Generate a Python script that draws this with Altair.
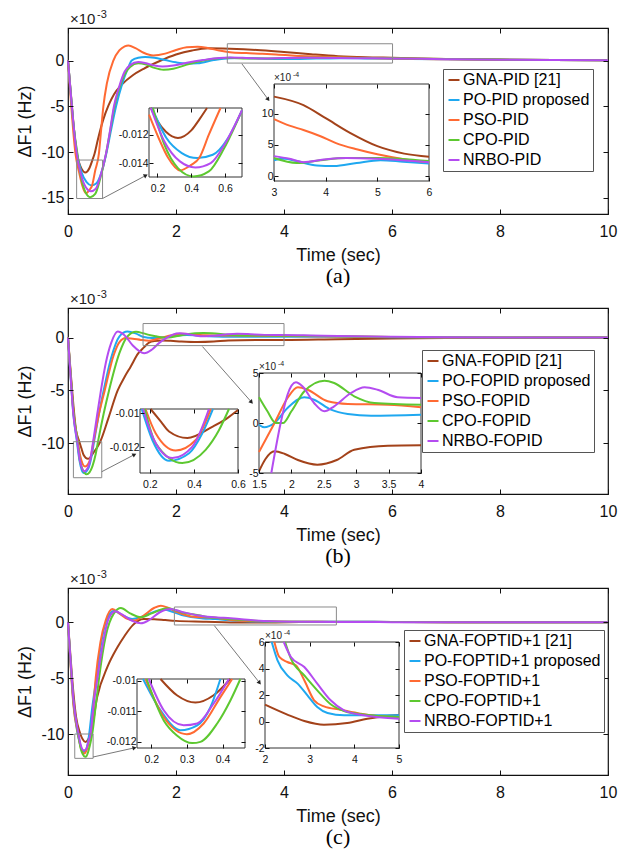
import math
import altair as alt
import pandas as pd

FONT = "Liberation Sans"
SERIF = "Liberation Serif"
COLORS = ["#A3421A", "#1FA8F0", "#FF6A33", "#5DC830", "#B44CF0"]

MAIN_XTICKS = [0, 2, 4, 6, 8, 10]

# ---------------- panel (a) ----------------
A_NAMES = ["GNA-PID [21]", "PO-PID proposed", "PSO-PID", "CPO-PID", "NRBO-PID"]
A_YDOM = [-16.75, 3.55]
A_YTICKS = [-15, -10, -5, 0]
A_GNA = [(0, 0), (0.05, -3.4), (0.1, -6.8), (0.161, -10.14), (0.2, -11.05), (0.25, -11.8), (0.32, -12.23), (0.4, -11.7), (0.45, -10.9), (0.493, -10.14), (0.55, -8.7), (0.65, -6.5), (0.75, -4.9), (0.85, -3.7), (1.0, -2.6), (1.2, -1.6), (1.4, -0.9), (1.7, -0.05), (2.0, 0.65), (2.3, 1.1), (2.6, 1.33), (3.0, 1.28), (3.5, 1.15), (4.0, 0.93), (4.5, 0.69), (5.0, 0.48), (5.5, 0.36), (6.0, 0.3), (7.0, 0.18), (8.0, 0.1), (9.0, 0.06), (10.0, 0.04)]
A_PO = [(0, 0), (0.05, -3.6), (0.1, -7.0), (0.168, -10.14), (0.253, -12.23), (0.344, -13.28), (0.435, -13.63), (0.527, -13.4), (0.618, -12.23), (0.71, -10.14), (0.8, -7.5), (0.89, -5.0), (1.0, -2.6), (1.1, -1.0), (1.18, 0.0), (1.3, 0.3), (1.43, 0.38), (1.6, 0.3), (1.8, 0.05), (2.0, -0.2), (2.2, -0.33), (2.4, -0.3), (2.7, 0.05), (3.0, 0.26), (3.2, 0.28), (3.44, 0.24), (3.83, 0.17), (4.16, 0.16), (4.6, 0.21), (5.06, 0.255), (5.5, 0.23), (6.0, 0.2), (7.0, 0.14), (8.0, 0.09), (9.0, 0.06), (10.0, 0.04)]
A_PSO = [(0, 0), (0.05, -4.1), (0.1, -7.9), (0.138, -10.14), (0.207, -12.23), (0.264, -13.63), (0.333, -14.49), (0.4, -14.1), (0.447, -13.63), (0.504, -12.0), (0.573, -10.14), (0.61, -7.8), (0.655, -5.0), (0.72, -2.5), (0.84, 0.0), (0.95, 1.1), (1.05, 1.55), (1.12, 1.65), (1.25, 1.35), (1.4, 0.85), (1.58, 0.55), (1.8, 0.75), (2.0, 1.15), (2.2, 1.45), (2.4, 1.5), (2.6, 1.35), (2.8, 1.1), (3.0, 0.915), (3.3, 0.81), (3.6, 0.74), (3.9, 0.64), (4.2, 0.53), (4.6, 0.43), (5.0, 0.35), (5.5, 0.27), (6.0, 0.21), (7.0, 0.14), (8.0, 0.09), (9.0, 0.06), (10.0, 0.04)]
A_CPO = [(0, 0), (0.05, -3.5), (0.1, -6.9), (0.173, -10.14), (0.241, -12.7), (0.321, -14.33), (0.413, -14.91), (0.504, -14.56), (0.595, -12.93), (0.7, -10.3), (0.78, -7.7), (0.86, -5.0), (0.95, -3.0), (1.05, -1.5), (1.15, -0.7), (1.3, -0.3), (1.45, -0.45), (1.6, -0.8), (1.77, -1.0), (1.95, -0.9), (2.2, -0.45), (2.5, 0.0), (2.8, 0.25), (3.0, 0.29), (3.3, 0.23), (3.6, 0.22), (4.0, 0.25), (4.4, 0.29), (5.0, 0.29), (6.0, 0.24), (7.0, 0.16), (8.0, 0.1), (9.0, 0.06), (10.0, 0.04)]
A_NRBO = [(0, 0), (0.05, -3.5), (0.1, -6.9), (0.161, -10.14), (0.241, -12.47), (0.333, -13.86), (0.424, -14.28), (0.515, -13.98), (0.607, -12.47), (0.705, -10.14), (0.78, -7.6), (0.85, -5.0), (0.95, -2.8), (1.05, -1.2), (1.15, -0.5), (1.3, -0.15), (1.45, -0.3), (1.6, -0.55), (1.75, -0.65), (1.95, -0.55), (2.2, -0.25), (2.5, 0.05), (2.8, 0.28), (3.0, 0.32), (3.3, 0.28), (3.6, 0.22), (4.0, 0.265), (4.4, 0.29), (5.0, 0.28), (5.5, 0.25), (6.0, 0.22), (7.0, 0.15), (8.0, 0.09), (9.0, 0.06), (10.0, 0.04)]
A_BOXES = [(0.16, 0.64, -15.06, -10.86), (2.95, 6.01, -0.28, 1.83)]
A_ARROWS = [(0.64, -15.06, 1.43, -12.58), (3.22, -0.36, 3.70, -4.19)]
A_LEGEND_XY = (375, 41)

AI1_XDOM, AI1_YDOM = [0.15, 0.7], [-0.01495, -0.01014]
AI1_XTICKS, AI1_YTICKS = [0.2, 0.4, 0.6], [-0.014, -0.012]
AI1_GNA = [(0.161, -0.01014), (0.2, -0.01105), (0.25, -0.0118), (0.321, -0.01223), (0.4, -0.0117), (0.45, -0.0109), (0.493, -0.01014)]
AI1_PO = [(0.168, -0.01014), (0.253, -0.01223), (0.344, -0.01328), (0.435, -0.01363), (0.527, -0.0134), (0.618, -0.01223), (0.7, -0.0103)]
AI1_PSO = [(0.15, -0.0106), (0.207, -0.01223), (0.264, -0.01363), (0.333, -0.01449), (0.4, -0.0141), (0.447, -0.01363), (0.504, -0.012), (0.573, -0.01014)]
AI1_CPO = [(0.173, -0.01014), (0.241, -0.0127), (0.321, -0.01433), (0.413, -0.01491), (0.504, -0.01456), (0.595, -0.01293), (0.7, -0.0103)]
AI1_NRBO = [(0.161, -0.01014), (0.241, -0.01247), (0.333, -0.01386), (0.424, -0.01428), (0.515, -0.01398), (0.607, -0.01247), (0.7, -0.0103)]
AI1_PX, AI1_PY = (81, 174), (80, 149)

AI2_XDOM, AI2_YDOM = [3, 6], [-0.8, 14.8]
AI2_XTICKS, AI2_YTICKS = [3, 4, 5, 6], [0, 5, 10]
AI2_GNA = [(3.0, 12.77), (3.57, 11.4), (4.0, 9.3), (4.48, 6.9), (5.0, 4.8), (5.52, 3.6), (6.0, 3.1)]
AI2_PO = [(3.0, 2.55), (3.2, 2.77), (3.44, 2.4), (3.83, 1.7), (4.16, 1.6), (4.6, 2.1), (5.06, 2.55), (5.5, 2.3), (6.0, 2.0)]
AI2_PSO = [(3.0, 9.15), (3.3, 8.1), (3.57, 7.4), (3.9, 6.4), (4.2, 5.3), (4.6, 4.3), (5.0, 3.5), (5.52, 2.7), (6.0, 2.2)]
AI2_CPO = [(3.0, 2.9), (3.44, 2.1), (3.9, 2.55), (4.4, 2.9), (5.0, 2.9), (6.0, 2.4)]
AI2_NRBO = [(3.0, 3.2), (3.3, 2.77), (3.57, 2.23), (3.96, 2.65), (4.4, 2.9), (5.0, 2.77), (6.0, 2.23)]
AI2_PX, AI2_PY = (206, 361), (56, 153)

# ---------------- panel (b) ----------------
B_NAMES = ["GNA-FOPID [21]", "PO-FOPID proposed", "PSO-FOPID", "CPO-FOPID", "NRBO-FOPID"]
B_YDOM = [-14.8, 2.8]
B_YTICKS = [-10, -5, 0]
B_GNA = [(0, 0), (0.05, -3.3), (0.1, -6.4), (0.15, -8.8), (0.203, -9.75), (0.25, -10.5), (0.287, -11.08), (0.37, -11.47), (0.483, -10.8), (0.55, -10.3), (0.6, -9.81), (0.75, -7.6), (0.92, -5.0), (1.05, -3.7), (1.16, -2.75), (1.3, -1.5), (1.4, -0.95), (1.5, -0.483), (1.6, -0.33), (1.74, -0.283), (1.9, -0.31), (2.1, -0.37), (2.4, -0.417), (2.7, -0.37), (2.97, -0.267), (3.49, -0.227), (4.0, -0.223), (5.0, -0.15), (6.0, -0.09), (7.0, -0.05), (8.0, -0.03), (9.0, -0.02), (10.0, -0.01)]
B_PO = [(0, 0), (0.05, -3.8), (0.1, -7.3), (0.163, -9.75), (0.211, -11.58), (0.287, -12.81), (0.378, -12.36), (0.438, -11.18), (0.486, -9.75), (0.57, -7.3), (0.66, -5.0), (0.8, -1.9), (0.95, 0.1), (1.1, 0.57), (1.25, 0.4), (1.4, 0.05), (1.5, -0.017), (1.58, -0.043), (1.75, 0.0), (1.94, 0.15), (2.2, 0.257), (2.35, 0.233), (2.61, 0.133), (2.87, 0.09), (3.23, 0.073), (4.0, 0.083), (5.0, 0.07), (6.0, 0.04), (7.0, 0.02), (8.0, 0.01), (10.0, 0.0)]
B_PSO = [(0, 0), (0.05, -3.6), (0.1, -7.0), (0.18, -9.75), (0.226, -11.18), (0.317, -12.2), (0.408, -11.58), (0.476, -9.75), (0.57, -7.3), (0.68, -5.0), (0.85, -1.6), (0.95, -0.45), (1.07, -0.05), (1.2, -0.1), (1.35, -0.22), (1.5, -0.29), (1.6, -0.2), (1.74, 0.0), (1.94, 0.25), (2.1, 0.357), (2.25, 0.333), (2.56, 0.217), (2.87, 0.19), (3.49, 0.183), (4.0, 0.157), (5.0, 0.1), (6.0, 0.05), (7.0, 0.02), (8.0, 0.01), (10.0, 0.0)]
B_CPO = [(0, 0), (0.05, -3.6), (0.1, -7.0), (0.177, -9.75), (0.226, -11.77), (0.347, -12.94), (0.453, -12.16), (0.514, -10.99), (0.559, -9.75), (0.66, -7.2), (0.76, -5.0), (0.95, -1.5), (1.1, 0.1), (1.26, 0.55), (1.4, 0.4), (1.5, 0.257), (1.63, 0.117), (1.76, 0.0), (1.87, 0.0), (2.0, 0.117), (2.2, 0.317), (2.51, 0.423), (2.66, 0.4), (2.97, 0.267), (3.28, 0.2), (4.0, 0.183), (5.0, 0.12), (6.0, 0.06), (7.0, 0.03), (8.0, 0.01), (10.0, 0.0)]
B_NRBO = [(0, 0), (0.05, -3.8), (0.1, -7.3), (0.169, -9.75), (0.219, -11.58), (0.302, -12.65), (0.393, -11.97), (0.468, -9.75), (0.54, -7.3), (0.61, -5.0), (0.7, -2.4), (0.8, -0.5), (0.92, 0.57), (1.05, 0.2), (1.2, -0.75), (1.41, -1.48), (1.55, -1.15), (1.69, -0.5), (1.84, 0.017), (1.94, 0.283), (2.07, 0.407), (2.17, 0.367), (2.35, 0.2), (2.51, 0.117), (2.66, 0.167), (2.92, 0.3), (3.13, 0.357), (3.33, 0.333), (3.64, 0.257), (4.0, 0.25), (4.5, 0.2), (5.0, 0.14), (6.0, 0.07), (7.0, 0.03), (8.0, 0.01), (10.0, 0.0)]
B_BOXES = [(0.1, 0.625, -13.26, -9.85), (1.39, 4.0, -0.76, 1.33)]
B_ARROWS = [(0.625, -12.69, 1.22, -11.1), (2.49, -0.85, 3.39, -6.06)]
B_LEGEND_XY = (354, 42)

BI1_XDOM, BI1_YDOM = [0.155, 0.6], [-0.01353, -0.00975]
BI1_XTICKS, BI1_YTICKS = [0.2, 0.4, 0.6], [-0.012, -0.01]
BI1_GNA = [(0.203, -0.00975), (0.25, -0.0105), (0.287, -0.01108), (0.37, -0.01147), (0.483, -0.0108), (0.55, -0.0103), (0.6, -0.00981)]
BI1_PO = [(0.163, -0.00975), (0.211, -0.01158), (0.287, -0.01281), (0.378, -0.01236), (0.438, -0.01118), (0.486, -0.00975)]
BI1_PSO = [(0.18, -0.00975), (0.226, -0.01118), (0.317, -0.0122), (0.408, -0.01158), (0.476, -0.00975)]
BI1_CPO = [(0.177, -0.00975), (0.226, -0.01177), (0.347, -0.01294), (0.453, -0.01216), (0.514, -0.01099), (0.559, -0.00975)]
BI1_NRBO = [(0.169, -0.00975), (0.219, -0.01158), (0.302, -0.01265), (0.393, -0.01197), (0.468, -0.00975)]
BI1_PX, BI1_PY = (72, 170), (101, 165)

BI2_XDOM, BI2_YDOM = [1.5, 4], [-5, 5]
BI2_XTICKS, BI2_YTICKS = [1.5, 2, 2.5, 3, 3.5, 4], [-5, 0, 5]
BI2_GNA = [(1.5, -4.83), (1.6, -3.6), (1.74, -2.83), (1.9, -3.1), (2.1, -3.7), (2.4, -4.17), (2.7, -3.7), (2.97, -2.67), (3.49, -2.27), (4.0, -2.23)]
BI2_PO = [(1.5, -0.17), (1.58, -0.43), (1.74, 0.0), (1.94, 1.5), (2.2, 2.57), (2.35, 2.33), (2.61, 1.33), (2.87, 0.9), (3.23, 0.73), (4.0, 0.83)]
BI2_PSO = [(1.5, -2.9), (1.74, 0.0), (1.94, 2.5), (2.1, 3.57), (2.25, 3.33), (2.56, 2.17), (2.87, 1.9), (3.49, 1.83), (4.0, 1.57)]
BI2_CPO = [(1.5, 2.57), (1.63, 1.17), (1.76, 0.0), (1.87, 0.0), (2.0, 1.17), (2.2, 3.17), (2.51, 4.23), (2.66, 4.0), (2.97, 2.67), (3.28, 2.0), (4.0, 1.83)]
BI2_NRBO = [(1.69, -5.0), (1.84, 0.17), (1.94, 2.83), (2.07, 4.07), (2.17, 3.67), (2.35, 2.0), (2.51, 1.17), (2.66, 1.67), (2.92, 3.0), (3.13, 3.57), (3.33, 3.33), (3.64, 2.57), (4.0, 2.5)]
BI2_PX, BI2_PY = (191, 353), (65, 165)

# ---------------- panel (c) ----------------
C_NAMES = ["GNA-FOPTID+1 [21]", "PO-FOPTID+1 proposed", "PSO-FOPTID+1", "CPO-FOPTID+1", "NRBO-FOPTID+1"]
C_YDOM = [-13.67, 3.07]
C_YTICKS = [-10, -5, 0]
C_GNA = [(0, 0), (0.05, -3.3), (0.1, -6.3), (0.15, -8.5), (0.226, -9.95), (0.272, -10.48), (0.324, -10.72), (0.375, -10.48), (0.422, -9.99), (0.54, -6.7), (0.73, -4.0), (0.915, -2.24), (1.05, -1.2), (1.2, -0.25), (1.4, 0.3), (1.6, 0.28), (1.8, 0.2), (2.0, 0.127), (2.5, 0.052), (2.88, 0.004), (3.32, -0.024), (3.84, -0.011), (4.29, 0.021), (4.73, 0.042), (5.0, 0.049), (6.0, 0.03), (7.0, 0.01), (8.0, 0.0), (10.0, 0.0)]
C_PO = [(0, 0), (0.05, -3.8), (0.1, -7.2), (0.177, -9.95), (0.226, -10.97), (0.282, -11.62), (0.329, -11.46), (0.366, -10.87), (0.394, -9.95), (0.45, -7.6), (0.526, -5.0), (0.6, -2.3), (0.7, 0.0), (0.85, 1.04), (1.0, 0.65), (1.19, 0.3), (1.4, 0.55), (1.6, 0.95), (1.78, 1.12), (1.95, 0.92), (2.15, 0.6), (2.28, 0.462), (2.5, 0.348), (2.73, 0.286), (2.95, 0.197), (3.17, 0.109), (3.4, 0.064), (3.77, 0.047), (5.0, 0.047), (6.0, 0.03), (8.0, 0.01), (10.0, 0.0)]
C_PSO = [(0, 0), (0.05, -4.0), (0.1, -7.4), (0.184, -9.95), (0.235, -11.19), (0.3, -11.75), (0.347, -11.4), (0.394, -10.54), (0.427, -9.95), (0.47, -7.6), (0.513, -5.0), (0.6, -1.8), (0.7, 0.2), (0.82, 1.19), (0.95, 0.8), (1.1, 0.3), (1.22, 0.15), (1.4, 0.6), (1.6, 1.3), (1.72, 1.49), (1.85, 1.3), (2.0, 0.95), (2.21, 0.6), (2.32, 0.487), (2.5, 0.449), (2.69, 0.424), (2.88, 0.311), (3.1, 0.16), (3.32, 0.114), (3.69, 0.089), (4.14, 0.059), (4.58, 0.039), (5.0, 0.034), (6.0, 0.02), (8.0, 0.01), (10.0, 0.0)]
C_CPO = [(0, 0), (0.05, -3.7), (0.1, -7.0), (0.187, -9.95), (0.235, -11.3), (0.272, -11.79), (0.315, -12.04), (0.338, -12.0), (0.385, -11.4), (0.422, -10.65), (0.45, -9.95), (0.52, -7.2), (0.575, -5.0), (0.7, -1.2), (0.85, 0.8), (0.98, 1.28), (1.15, 0.8), (1.35, 0.45), (1.55, 0.8), (1.84, 1.25), (2.1, 0.9), (2.45, 0.6), (2.58, 0.474), (2.88, 0.348), (3.17, 0.235), (3.47, 0.13), (3.77, 0.079), (4.21, 0.052), (5.0, 0.034), (6.0, 0.02), (8.0, 0.01), (10.0, 0.0)]
C_NRBO = [(0, 0), (0.05, -3.6), (0.1, -6.9), (0.193, -9.95), (0.235, -10.97), (0.291, -11.46), (0.329, -11.4), (0.375, -10.75), (0.418, -9.95), (0.48, -7.2), (0.545, -5.0), (0.65, -1.8), (0.75, 0.3), (0.88, 0.99), (1.0, 0.7), (1.2, 0.1), (1.35, -0.09), (1.5, 0.2), (1.7, 0.9), (1.9, 1.19), (2.1, 0.95), (2.42, 0.6), (2.58, 0.487), (2.88, 0.411), (3.17, 0.286), (3.47, 0.16), (3.77, 0.084), (4.21, 0.047), (5.0, 0.021), (6.0, 0.015), (8.0, 0.01), (10.0, 0.0)]
C_BOXES = [(0.125, 0.465, -12.18, -10.0), (1.97, 4.97, -0.24, 1.37)]
C_ARROWS = [(0.465, -12.06, 1.22, -11.25), (2.71, -0.3, 3.54, -5.37)]
C_LEGEND_XY = (336, 42)

CI1_XDOM, CI1_YDOM = [0.16, 0.463], [-0.0122, -0.00995]
CI1_XTICKS, CI1_YTICKS = [0.2, 0.3, 0.4], [-0.012, -0.011, -0.01]
CI1_GNA = [(0.226, -0.00995), (0.272, -0.01048), (0.324, -0.01072), (0.375, -0.01048), (0.422, -0.00995)]
CI1_PO = [(0.177, -0.00995), (0.226, -0.01097), (0.282, -0.01162), (0.329, -0.01146), (0.366, -0.01087), (0.394, -0.00995)]
CI1_PSO = [(0.184, -0.00995), (0.235, -0.01119), (0.3, -0.01175), (0.347, -0.0114), (0.394, -0.01054), (0.427, -0.00995)]
CI1_CPO = [(0.187, -0.00995), (0.235, -0.0113), (0.272, -0.01179), (0.315, -0.01204), (0.338, -0.012), (0.385, -0.0114), (0.422, -0.01065), (0.45, -0.00995)]
CI1_NRBO = [(0.193, -0.00995), (0.235, -0.01097), (0.291, -0.01146), (0.329, -0.0114), (0.375, -0.01075), (0.418, -0.00995)]
CI1_PX, CI1_PY = (69, 177), (91, 160)

CI2_XDOM, CI2_YDOM = [2, 5], [-2, 6]
CI2_XTICKS, CI2_YTICKS = [2, 3, 4, 5], [-2, 0, 2, 4, 6]
CI2_GNA = [(2.0, 1.27), (2.5, 0.52), (2.88, 0.04), (3.32, -0.24), (3.84, -0.11), (4.29, 0.21), (4.73, 0.42), (5.0, 0.49)]
CI2_PO = [(2.15, 6.0), (2.28, 4.62), (2.5, 3.48), (2.73, 2.86), (2.95, 1.97), (3.17, 1.09), (3.4, 0.64), (3.77, 0.47), (5.0, 0.47)]
CI2_PSO = [(2.21, 6.0), (2.32, 4.87), (2.5, 4.49), (2.69, 4.24), (2.88, 3.11), (3.1, 1.6), (3.32, 1.14), (3.69, 0.89), (4.14, 0.59), (4.58, 0.39), (5.0, 0.34)]
CI2_CPO = [(2.45, 6.0), (2.58, 4.74), (2.88, 3.48), (3.17, 2.35), (3.47, 1.3), (3.77, 0.79), (4.21, 0.52), (5.0, 0.34)]
CI2_NRBO = [(2.42, 6.0), (2.58, 4.87), (2.88, 4.11), (3.17, 2.86), (3.47, 1.6), (3.77, 0.84), (4.21, 0.47), (5.0, 0.21)]
CI2_PX, CI2_PY = (197, 331), (54, 160)

PANEL_W = 540
PANEL_H = [186, 186, 187]


def to_df(names, series):
    rows = []
    for name, pts in zip(names, series):
        for t, v in pts:
            rows.append({"t": t, "v": v, "s": name})
    return pd.DataFrame(rows)


def minus_fmt(fmt):
    return ("datum.value < 0 ? '-' + format(-datum.value, '%s') : format(datum.value, '%s')" % (fmt, fmt))


def color_enc(names, legend_xy):
    return alt.Color(
        "s:N",
        scale=alt.Scale(domain=names, range=COLORS),
        sort=names,
        legend=alt.Legend(
            orient="none", legendX=legend_xy[0], legendY=legend_xy[1], title=None,
            symbolType="stroke", symbolStrokeWidth=2, symbolSize=121,
            labelFont=FONT, labelFontSize=16, labelColor="black", labelLimit=400,
            labelOffset=1, fillColor="white", strokeColor="#555555", padding=3,
            rowPadding=4, zindex=2,
        ),
    )


def xq(field, scale, axis=None):
    return alt.X(field, type="quantitative", scale=scale, axis=axis)


def yq(field, scale, axis=None):
    return alt.Y(field, type="quantitative", scale=scale, axis=axis)


def tick_axis(orient, values, offset, size):
    return alt.Axis(orient=orient, values=values, labels=False, tickSize=size, offset=offset,
                    domain=False, title=None, grid=False, zindex=1)


def exponent(xdom, ydom, xrange, yrange, power, size_main, size_sup, dx, dy, sup_dx, sup_dy):
    d = pd.DataFrame({"x": [xdom[0]], "y": [ydom[1]]})
    out = []
    for txt, fs, ddx, ddy in (("\u00d710", size_main, dx, dy), (power, size_sup, sup_dx, sup_dy)):
        xs = alt.Scale(domain=xdom, nice=False, zero=False, **({"range": xrange} if xrange else {}))
        ys = alt.Scale(domain=ydom, nice=False, zero=False, **({"range": yrange} if yrange else {}))
        out.append(alt.Chart(d).mark_text(
            align="left", baseline="bottom", font=FONT, fontSize=fs, color="#222222", dx=ddx, dy=ddy
        ).encode(x=xq("x", xs), y=yq("y", ys), text=alt.value(txt)))
    return out


def inset_layers(names, series, xdom, ydom, xticks, yticks, px, py, power, H, W, color):
    def ixs():
        return alt.Scale(domain=xdom, range=[px[0], px[1]], nice=False, zero=False)

    def iys():
        return alt.Scale(domain=ydom, range=[py[1], py[0]], nice=False, zero=False)

    xaxis = alt.Axis(orient="bottom", offset=py[1] - H - 4, tickSize=4, values=xticks, domain=False,
                     labelPadding=6, labelFontSize=10.5, title=None, zindex=1, grid=False,
                     labelExpr=minus_fmt("~g"), labelFlush=False, labelOverlap=False)
    yaxis = alt.Axis(orient="left", offset=-(px[0] + 4), tickSize=4, values=yticks, domain=False,
                     labelPadding=1, labelFontSize=10.5, title=None, zindex=1, grid=False,
                     labelExpr=minus_fmt("~g"), labelFlush=False, labelOverlap=False)
    fdf = pd.DataFrame({"x0": [xdom[0]], "x1": [xdom[1]], "y0": [ydom[0]], "y1": [ydom[1]]})
    frame = alt.Chart(fdf).mark_rect(fill="white", stroke="#333333", strokeWidth=1).encode(
        x=xq("x0", ixs(), tick_axis("top", xticks, -(py[0] + 4), 4)), x2="x1:Q",
        y=yq("y0", iys(), tick_axis("right", yticks, px[1] - 4 - W, 4)), y2="y1:Q")
    lines = alt.Chart(to_df(names, series)).mark_line(strokeWidth=2, interpolate="monotone").encode(
        x=alt.X("t:Q", scale=ixs(), axis=xaxis),
        y=alt.Y("v:Q", scale=iys(), axis=yaxis),
        color=color)
    layers = [frame, lines]
    if power:
        layers += exponent(xdom, ydom, [px[0], px[1]], [py[1], py[0]], power, 10, 7, 0, -1, 19, -6)
    return layers


def panel(names, main, ydom, yticks, boxes, arrows, legend_xy, insets, letter, H):
    W = PANEL_W
    color = color_enc(names, legend_xy)

    def xs():
        return alt.Scale(domain=[0, 10], nice=False, zero=False)

    def ys():
        return alt.Scale(domain=ydom, nice=False, zero=False)

    xaxis = alt.Axis(orient="bottom", values=MAIN_XTICKS, offset=-5, tickSize=5, domain=False,
                     labelPadding=9, labelFontSize=16, titleFontSize=18, titlePadding=7,
                     zindex=1, grid=False, labelExpr=minus_fmt("~g"), labelFlush=False)
    yaxis = alt.Axis(orient="left", values=yticks, offset=-5, tickSize=5, domain=False,
                     labelPadding=4, labelFontSize=16, titleFontSize=18, titlePadding=6,
                     zindex=1, grid=False, labelExpr=minus_fmt("~g"))
    lines = alt.Chart(to_df(names, main)).mark_line(strokeWidth=2, interpolate="monotone").encode(
        x=alt.X("t:Q", scale=xs(), axis=xaxis, title="Time (sec)"),
        y=alt.Y("v:Q", scale=ys(), axis=yaxis, title="\u0394F1 (Hz)"),
        color=color)
    bdf = pd.DataFrame(boxes, columns=["x0", "x1", "y0", "y1"])
    box = alt.Chart(bdf).mark_rect(fillOpacity=0, stroke="#8a8a8a", strokeWidth=1).encode(
        x=xq("x0", xs(), tick_axis("top", MAIN_XTICKS, -5, 5)), x2="x1:Q",
        y=yq("y0", ys(), tick_axis("right", yticks, -5, 5)), y2="y1:Q")
    adf = pd.DataFrame(arrows, columns=["x0", "y0", "x1", "y1"])
    sx = W / 10.0
    sy = H / (ydom[1] - ydom[0])
    adf["ang"] = [
        math.degrees(math.atan2((r.x1 - r.x0) * sx, (r.y1 - r.y0) * sy)) % 360 for r in adf.itertuples()
    ]
    rule = alt.Chart(adf).mark_rule(color="#555555", strokeWidth=0.8).encode(
        x=xq("x0", xs()), x2="x1:Q", y=yq("y0", ys()), y2="y1:Q")
    head = alt.Chart(adf).mark_point(shape="triangle", filled=True, size=22, color="#222222", opacity=1).encode(
        x=xq("x1", xs()), y=yq("y1", ys()), angle=alt.Angle("ang:Q", scale=None))
    exp = exponent([0, 10], ydom, None, None, "-3", 15, 11, 2, -1, 29, -8)
    layers = [lines, box, rule, head] + exp
    for spec in insets:
        layers += inset_layers(names, *spec, H=H, W=W, color=color)
    return alt.layer(*layers).resolve_scale(x="independent", y="independent").properties(
        width=W, height=H,
        title=alt.TitleParams(letter, orient="bottom", font=SERIF, fontSize=22, fontWeight="normal",
                              color="black", offset=2))


pa = panel(
    A_NAMES, [A_GNA, A_PO, A_PSO, A_CPO, A_NRBO], A_YDOM, A_YTICKS, A_BOXES, A_ARROWS, A_LEGEND_XY,
    [
        ([AI1_GNA, AI1_PO, AI1_PSO, AI1_CPO, AI1_NRBO], AI1_XDOM, AI1_YDOM, AI1_XTICKS, AI1_YTICKS, AI1_PX, AI1_PY, None),
        ([AI2_GNA, AI2_PO, AI2_PSO, AI2_CPO, AI2_NRBO], AI2_XDOM, AI2_YDOM, AI2_XTICKS, AI2_YTICKS, AI2_PX, AI2_PY, "-4"),
    ],
    "(a)", PANEL_H[0])
pb = panel(
    B_NAMES, [B_GNA, B_PO, B_PSO, B_CPO, B_NRBO], B_YDOM, B_YTICKS, B_BOXES, B_ARROWS, B_LEGEND_XY,
    [
        ([BI1_GNA, BI1_PO, BI1_PSO, BI1_CPO, BI1_NRBO], BI1_XDOM, BI1_YDOM, BI1_XTICKS, BI1_YTICKS, BI1_PX, BI1_PY, None),
        ([BI2_GNA, BI2_PO, BI2_PSO, BI2_CPO, BI2_NRBO], BI2_XDOM, BI2_YDOM, BI2_XTICKS, BI2_YTICKS, BI2_PX, BI2_PY, "-4"),
    ],
    "(b)", PANEL_H[1])
pc = panel(
    C_NAMES, [C_GNA, C_PO, C_PSO, C_CPO, C_NRBO], C_YDOM, C_YTICKS, C_BOXES, C_ARROWS, C_LEGEND_XY,
    [
        ([CI1_GNA, CI1_PO, CI1_PSO, CI1_CPO, CI1_NRBO], CI1_XDOM, CI1_YDOM, CI1_XTICKS, CI1_YTICKS, CI1_PX, CI1_PY, None),
        ([CI2_GNA, CI2_PO, CI2_PSO, CI2_CPO, CI2_NRBO], CI2_XDOM, CI2_YDOM, CI2_XTICKS, CI2_YTICKS, CI2_PX, CI2_PY, "-4"),
    ],
    "(c)", PANEL_H[2])

chart = alt.vconcat(pa, pb, pc, spacing=0).resolve_scale(color="independent").properties(
    padding={"left": 16, "top": 8, "right": 4, "bottom": 2}, background="white"
).configure_view(stroke="#111111", strokeWidth=1.2).configure_axis(
    labelFont=FONT, titleFont=FONT, labelColor="#111111", titleColor="#111111", tickColor="#111111",
    titleFontWeight="normal", tickWidth=1
)

chart.save("out.html", embed_options={"renderer": "svg", "actions": False})
